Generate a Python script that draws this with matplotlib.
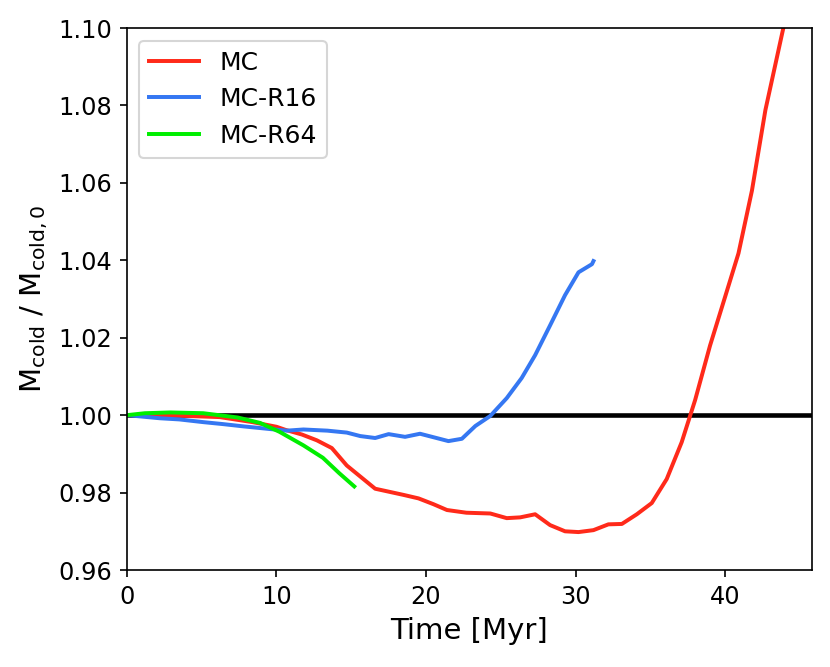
import numpy as np
import matplotlib
matplotlib.use('Agg')
import matplotlib.pyplot as plt

# --- Data ---
t_mc = [0.0, 2.0, 4.0, 6.2, 8.4, 10.0, 10.6, 11.7, 12.7, 13.7, 14.7, 16.6, 18.5, 19.5,
        20.5, 21.4, 22.7, 24.3, 25.4, 26.3, 27.3, 28.3, 29.3, 30.2, 31.2, 32.2, 33.1,
        34.1, 35.1, 36.1, 37.1, 38.0, 39.0, 40.0, 40.9, 41.8, 42.7, 43.9]
m_mc = [1.0, 0.9999, 0.9998, 0.9995, 0.9982, 0.9970, 0.9962, 0.9950, 0.9935, 0.9915,
        0.9870, 0.9810, 0.9794, 0.9785, 0.9770, 0.9755, 0.9748, 0.9746, 0.9734, 0.9736,
        0.9744, 0.9716, 0.9700, 0.9698, 0.9703, 0.9718, 0.9719, 0.9744, 0.9773, 0.9835,
        0.9930, 1.0039, 1.0180, 1.0305, 1.0418, 1.0580, 1.0788, 1.1000]

t_r16 = [0.0, 2.2, 3.5, 5.1, 6.4, 7.8, 9.6, 10.7, 11.8, 13.4, 14.7, 15.6, 16.6, 17.5,
         18.6, 19.6, 21.5, 22.4, 23.3, 24.3, 25.4, 26.4, 27.3, 28.3, 29.3, 30.2, 31.1, 31.2]
m_r16 = [1.0, 0.9992, 0.9989, 0.9982, 0.9977, 0.9971, 0.9964, 0.9960, 0.9963, 0.9960,
         0.9955, 0.9946, 0.9941, 0.9951, 0.9944, 0.9952, 0.9933, 0.9939, 0.9972, 0.9998,
         1.0044, 1.0096, 1.0155, 1.0232, 1.0310, 1.0369, 1.0390, 1.0398]

t_r64 = [0.0, 1.2, 2.9, 5.1, 7.4, 8.9, 10.2, 11.8, 13.1, 14.2, 15.2]
m_r64 = [1.0, 1.0005, 1.0007, 1.0005, 0.9994, 0.9980, 0.9957, 0.9922, 0.9890, 0.9850, 0.9816]

plt.rcParams['mathtext.default'] = 'regular'

fig = plt.figure(figsize=(8.30 / 1.5, 6.67 / 1.5), dpi=150)
ax = fig.add_axes([0.153, 0.1454, 0.825, 0.8126])

ax.axhline(1.0, color='black', lw=2.2, zorder=1)
ax.plot(t_mc, m_mc, color='#ff2a1a', lw=1.9, label='MC')
ax.plot(t_r16, m_r16, color='#3577f2', lw=1.9, label='MC-R16')
ax.plot(t_r64, m_r64, color='#00ee00', lw=1.9, label='MC-R64')

ax.set_xlim(0, 45.8)
ax.set_ylim(0.96, 1.10)
ax.set_xticks([0, 10, 20, 30, 40])
ax.set_yticks(np.arange(0.96, 1.101, 0.02))
ax.yaxis.set_major_formatter(matplotlib.ticker.FormatStrFormatter('%.2f'))
ax.tick_params(labelsize=11.5)

ax.set_xlabel('Time [Myr]', fontsize=14)
ax.set_ylabel(r'$M_{cold}$ / $M_{cold,0}$', fontsize=14)
ax.legend(loc='upper left', fontsize=12)

fig.savefig('out.png', dpi=150)
